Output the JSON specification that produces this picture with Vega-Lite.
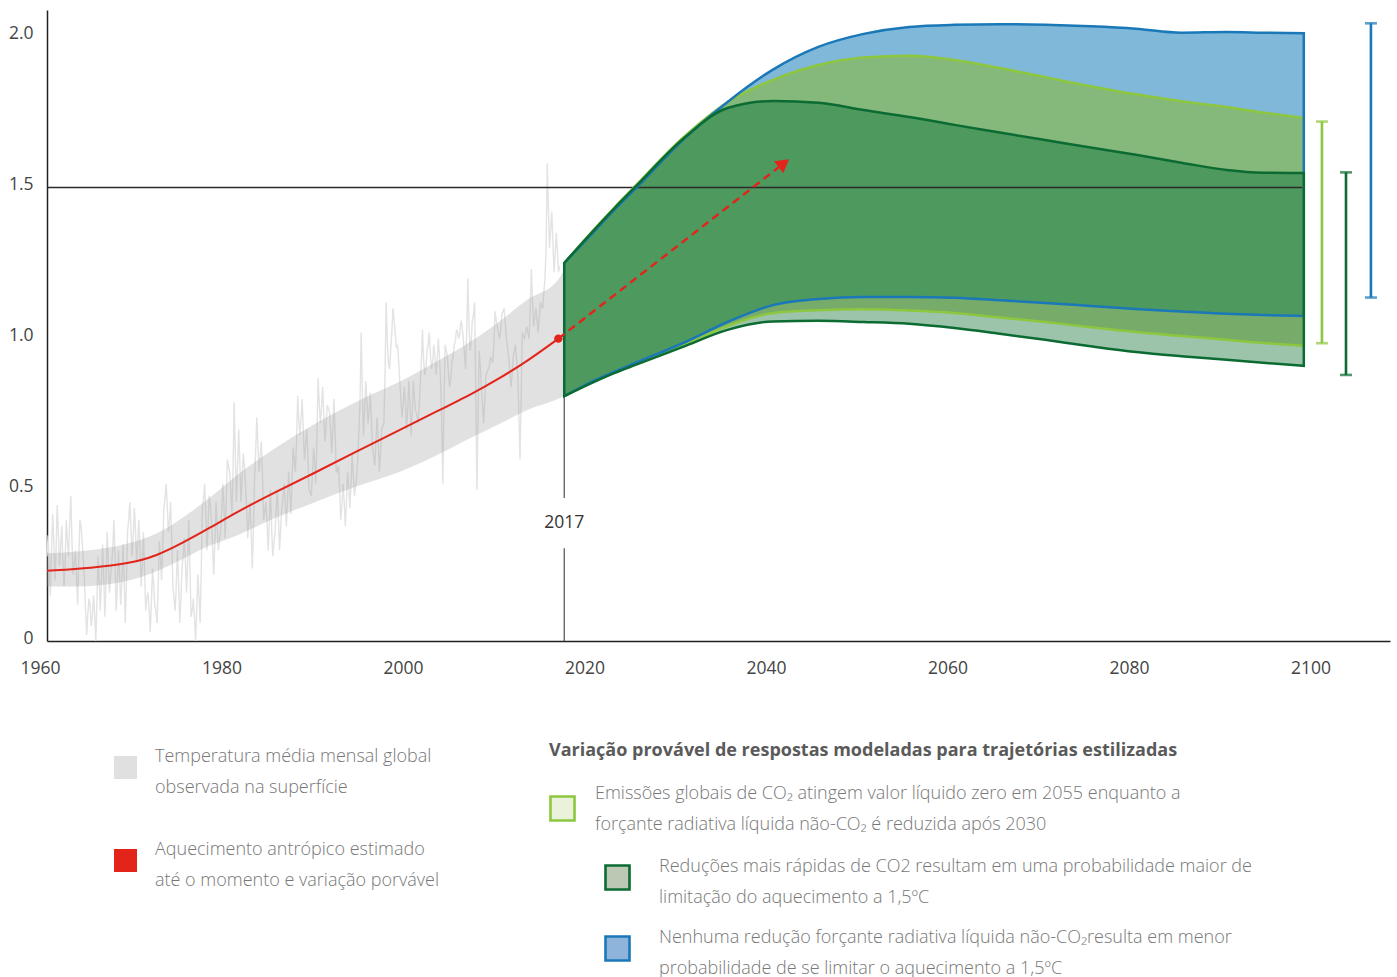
{
  "$schema": "https://vega.github.io/schema/vega-lite/v6.json",
  "width": 1343,
  "height": 631,
  "autosize": {"type": "none"},
  "padding": {"left": 47, "top": 10, "right": 7, "bottom": 336},
  "background": "white",
  "config": {
    "view": {"stroke": null},
    "font": "Open Sans",
    "axis": {"grid": false, "ticks": false, "labelFont": "Open Sans", "labelFontSize": 17.5, "labelColor": "#444444", "domainColor": "#222222", "domainWidth": 1.5}
  },
  "datasets": {
    "observado": [
      {"ano":1960.125,"t":0.35},{"ano":1960.375,"t":0.15},{"ano":1960.625,"t":0.42},{"ano":1960.875,"t":0.20},
      {"ano":1961.125,"t":0.45},{"ano":1961.375,"t":0.25},{"ano":1961.625,"t":0.38},{"ano":1961.875,"t":0.18},
      {"ano":1962.125,"t":0.40},{"ano":1962.375,"t":0.28},{"ano":1962.625,"t":0.48},{"ano":1962.875,"t":0.22},
      {"ano":1963.125,"t":0.30},{"ano":1963.375,"t":0.12},{"ano":1963.625,"t":0.40},{"ano":1963.875,"t":0.33},
      {"ano":1964.125,"t":0.20},{"ano":1964.375,"t":0.02},{"ano":1964.625,"t":0.14},{"ano":1964.875,"t":0.05},
      {"ano":1965.125,"t":0.15},{"ano":1965.375,"t":0.00},{"ano":1965.625,"t":0.28},{"ano":1965.875,"t":0.10},
      {"ano":1966.125,"t":0.32},{"ano":1966.375,"t":0.08},{"ano":1966.625,"t":0.36},{"ano":1966.875,"t":0.16},
      {"ano":1967.125,"t":0.25},{"ano":1967.375,"t":0.40},{"ano":1967.625,"t":0.10},{"ano":1967.875,"t":0.30},
      {"ano":1968.125,"t":0.12},{"ano":1968.375,"t":0.32},{"ano":1968.625,"t":0.06},{"ano":1968.875,"t":0.36},
      {"ano":1969.125,"t":0.46},{"ano":1969.375,"t":0.28},{"ano":1969.625,"t":0.44},{"ano":1969.875,"t":0.26},
      {"ano":1970.125,"t":0.40},{"ano":1970.375,"t":0.18},{"ano":1970.625,"t":0.36},{"ano":1970.875,"t":0.10},
      {"ano":1971.125,"t":0.16},{"ano":1971.375,"t":0.03},{"ano":1971.625,"t":0.24},{"ano":1971.875,"t":0.12},
      {"ano":1972.125,"t":0.06},{"ano":1972.375,"t":0.33},{"ano":1972.625,"t":0.20},{"ano":1972.875,"t":0.44},
      {"ano":1973.125,"t":0.52},{"ano":1973.375,"t":0.36},{"ano":1973.625,"t":0.46},{"ano":1973.875,"t":0.18},
      {"ano":1974.125,"t":0.10},{"ano":1974.375,"t":0.30},{"ano":1974.625,"t":0.06},{"ano":1974.875,"t":0.24},
      {"ano":1975.125,"t":0.34},{"ano":1975.375,"t":0.16},{"ano":1975.625,"t":0.40},{"ano":1975.875,"t":0.08},
      {"ano":1976.125,"t":0.14},{"ano":1976.375,"t":0.00},{"ano":1976.625,"t":0.22},{"ano":1976.875,"t":0.06},
      {"ano":1977.125,"t":0.44},{"ano":1977.375,"t":0.52},{"ano":1977.625,"t":0.30},{"ano":1977.875,"t":0.48},
      {"ano":1978.125,"t":0.40},{"ano":1978.375,"t":0.22},{"ano":1978.625,"t":0.46},{"ano":1978.875,"t":0.30},
      {"ano":1979.125,"t":0.36},{"ano":1979.375,"t":0.52},{"ano":1979.625,"t":0.34},{"ano":1979.875,"t":0.60},
      {"ano":1980.125,"t":0.56},{"ano":1980.375,"t":0.42},{"ano":1980.625,"t":0.79},{"ano":1980.875,"t":0.46},
      {"ano":1981.125,"t":0.70},{"ano":1981.375,"t":0.46},{"ano":1981.625,"t":0.62},{"ano":1981.875,"t":0.52},
      {"ano":1982.125,"t":0.34},{"ano":1982.375,"t":0.46},{"ano":1982.625,"t":0.24},{"ano":1982.875,"t":0.54},
      {"ano":1983.125,"t":0.74},{"ano":1983.375,"t":0.56},{"ano":1983.625,"t":0.66},{"ano":1983.875,"t":0.40},
      {"ano":1984.125,"t":0.46},{"ano":1984.375,"t":0.30},{"ano":1984.625,"t":0.50},{"ano":1984.875,"t":0.28},
      {"ano":1985.125,"t":0.36},{"ano":1985.375,"t":0.50},{"ano":1985.625,"t":0.30},{"ano":1985.875,"t":0.44},
      {"ano":1986.125,"t":0.52},{"ano":1986.375,"t":0.38},{"ano":1986.625,"t":0.56},{"ano":1986.875,"t":0.42},
      {"ano":1987.125,"t":0.64},{"ano":1987.375,"t":0.56},{"ano":1987.625,"t":0.81},{"ano":1987.875,"t":0.68},
      {"ano":1988.125,"t":0.80},{"ano":1988.375,"t":0.60},{"ano":1988.625,"t":0.70},{"ano":1988.875,"t":0.50},
      {"ano":1989.125,"t":0.48},{"ano":1989.375,"t":0.64},{"ano":1989.625,"t":0.52},{"ano":1989.875,"t":0.87},
      {"ano":1990.125,"t":0.72},{"ano":1990.375,"t":0.84},{"ano":1990.625,"t":0.66},{"ano":1990.875,"t":0.78},
      {"ano":1991.125,"t":0.76},{"ano":1991.375,"t":0.62},{"ano":1991.625,"t":0.80},{"ano":1991.875,"t":0.56},
      {"ano":1992.125,"t":0.58},{"ano":1992.375,"t":0.40},{"ano":1992.625,"t":0.52},{"ano":1992.875,"t":0.38},
      {"ano":1993.125,"t":0.56},{"ano":1993.375,"t":0.44},{"ano":1993.625,"t":0.62},{"ano":1993.875,"t":0.48},
      {"ano":1994.125,"t":0.54},{"ano":1994.375,"t":0.70},{"ano":1994.625,"t":1.02},{"ano":1994.875,"t":0.68},
      {"ano":1995.125,"t":0.86},{"ano":1995.375,"t":0.72},{"ano":1995.625,"t":0.82},{"ano":1995.875,"t":0.64},
      {"ano":1996.125,"t":0.58},{"ano":1996.375,"t":0.74},{"ano":1996.625,"t":0.56},{"ano":1996.875,"t":0.70},
      {"ano":1997.125,"t":0.72},{"ano":1997.375,"t":1.12},{"ano":1997.625,"t":0.92},{"ano":1997.875,"t":0.96},
      {"ano":1998.125,"t":1.10},{"ano":1998.375,"t":1.02},{"ano":1998.625,"t":0.98},{"ano":1998.875,"t":0.86},
      {"ano":1999.125,"t":0.74},{"ano":1999.375,"t":0.84},{"ano":1999.625,"t":0.70},{"ano":1999.875,"t":0.86},
      {"ano":2000.125,"t":0.68},{"ano":2000.375,"t":0.86},{"ano":2000.625,"t":0.76},{"ano":2000.875,"t":0.72},
      {"ano":2001.125,"t":0.84},{"ano":2001.375,"t":1.03},{"ano":2001.625,"t":0.88},{"ano":2001.875,"t":0.96},
      {"ano":2002.125,"t":1.02},{"ano":2002.375,"t":0.90},{"ano":2002.625,"t":0.98},{"ano":2002.875,"t":0.88},
      {"ano":2003.125,"t":1.00},{"ano":2003.375,"t":0.86},{"ano":2003.625,"t":0.52},{"ano":2003.875,"t":0.98},
      {"ano":2004.125,"t":0.94},{"ano":2004.375,"t":0.84},{"ano":2004.625,"t":0.92},{"ano":2004.875,"t":0.98},
      {"ano":2005.125,"t":1.03},{"ano":2005.375,"t":1.00},{"ano":2005.625,"t":1.06},{"ano":2005.875,"t":1.00},
      {"ano":2006.125,"t":0.90},{"ano":2006.375,"t":1.20},{"ano":2006.625,"t":0.96},{"ano":2006.875,"t":1.06},
      {"ano":2007.125,"t":1.12},{"ano":2007.375,"t":0.50},{"ano":2007.625,"t":0.96},{"ano":2007.875,"t":0.84},
      {"ano":2008.125,"t":0.72},{"ano":2008.375,"t":0.88},{"ano":2008.625,"t":0.90},{"ano":2008.875,"t":0.94},
      {"ano":2009.125,"t":0.92},{"ano":2009.375,"t":1.09},{"ano":2009.625,"t":1.04},{"ano":2009.875,"t":1.00},
      {"ano":2010.125,"t":1.08},{"ano":2010.375,"t":1.10},{"ano":2010.625,"t":1.00},{"ano":2010.875,"t":0.94},
      {"ano":2011.125,"t":0.84},{"ano":2011.375,"t":0.94},{"ano":2011.625,"t":0.98},{"ano":2011.875,"t":0.88},
      {"ano":2012.125,"t":0.60},{"ano":2012.375,"t":1.02},{"ano":2012.625,"t":1.00},{"ano":2012.875,"t":1.04},
      {"ano":2013.125,"t":1.00},{"ano":2013.375,"t":1.23},{"ano":2013.625,"t":1.04},{"ano":2013.875,"t":1.10},
      {"ano":2014.125,"t":1.02},{"ano":2014.375,"t":1.12},{"ano":2014.625,"t":1.10},{"ano":2014.875,"t":1.20},
      {"ano":2015.125,"t":1.58},{"ano":2015.375,"t":1.30},{"ano":2015.625,"t":1.42},{"ano":2015.875,"t":1.22},
      {"ano":2016.125,"t":1.35},{"ano":2016.375,"t":1.22},
      {"ano":1960.0,"t":0.28},{"ano":1960.25,"t":0.24},{"ano":1960.5,"t":0.30},{"ano":1960.75,"t":0.33},
      {"ano":1961.0,"t":0.30},{"ano":1961.25,"t":0.36},{"ano":1961.5,"t":0.31},{"ano":1961.75,"t":0.27},
      {"ano":1962.0,"t":0.26},{"ano":1962.25,"t":0.33},{"ano":1962.5,"t":0.39},{"ano":1962.75,"t":0.33},
      {"ano":1963.0,"t":0.25},{"ano":1963.25,"t":0.22},{"ano":1963.5,"t":0.27},{"ano":1963.75,"t":0.38},
      {"ano":1964.0,"t":0.27},{"ano":1964.25,"t":0.10},{"ano":1964.5,"t":0.09},{"ano":1964.75,"t":0.12},
      {"ano":1965.0,"t":0.08},{"ano":1965.25,"t":0.09},{"ano":1965.5,"t":0.13},{"ano":1965.75,"t":0.20},
      {"ano":1966.0,"t":0.20},{"ano":1966.25,"t":0.22},{"ano":1966.5,"t":0.20},{"ano":1966.75,"t":0.27},
      {"ano":1967.0,"t":0.21},{"ano":1967.25,"t":0.31},{"ano":1967.5,"t":0.27},{"ano":1967.75,"t":0.18},
      {"ano":1968.0,"t":0.22},{"ano":1968.25,"t":0.20},{"ano":1968.5,"t":0.21},{"ano":1968.75,"t":0.19},
      {"ano":1969.0,"t":0.40},{"ano":1969.25,"t":0.38},{"ano":1969.5,"t":0.34},{"ano":1969.75,"t":0.37},
      {"ano":1970.0,"t":0.32},{"ano":1970.25,"t":0.30},{"ano":1970.5,"t":0.25},{"ano":1970.75,"t":0.24},
      {"ano":1971.0,"t":0.14},{"ano":1971.25,"t":0.11},{"ano":1971.5,"t":0.12},{"ano":1971.75,"t":0.19},
      {"ano":1972.0,"t":0.10},{"ano":1972.25,"t":0.18},{"ano":1972.5,"t":0.28},{"ano":1972.75,"t":0.30},
      {"ano":1973.0,"t":0.47},{"ano":1973.25,"t":0.45},{"ano":1973.5,"t":0.40},{"ano":1973.75,"t":0.33},
      {"ano":1974.0,"t":0.14},{"ano":1974.25,"t":0.19},{"ano":1974.5,"t":0.20},{"ano":1974.75,"t":0.13},
      {"ano":1975.0,"t":0.28},{"ano":1975.25,"t":0.27},{"ano":1975.5,"t":0.26},{"ano":1975.75,"t":0.25},
      {"ano":1976.0,"t":0.10},{"ano":1976.25,"t":0.08},{"ano":1976.5,"t":0.10},{"ano":1976.75,"t":0.15},
      {"ano":1977.0,"t":0.24},{"ano":1977.25,"t":0.47},{"ano":1977.5,"t":0.42},{"ano":1977.75,"t":0.38},
      {"ano":1978.0,"t":0.45},{"ano":1978.25,"t":0.31},{"ano":1978.5,"t":0.33},{"ano":1978.75,"t":0.39},
      {"ano":1979.0,"t":0.33},{"ano":1979.25,"t":0.43},{"ano":1979.5,"t":0.45},{"ano":1979.75,"t":0.46},
      {"ano":1980.0,"t":0.58},{"ano":1980.25,"t":0.50},{"ano":1980.5,"t":0.55},{"ano":1980.75,"t":0.62},
      {"ano":1981.0,"t":0.58},{"ano":1981.25,"t":0.59},{"ano":1981.5,"t":0.53},{"ano":1981.75,"t":0.58},
      {"ano":1982.0,"t":0.44},{"ano":1982.25,"t":0.40},{"ano":1982.5,"t":0.36},{"ano":1982.75,"t":0.38},
      {"ano":1983.0,"t":0.63},{"ano":1983.25,"t":0.64},{"ano":1983.5,"t":0.62},{"ano":1983.75,"t":0.55},
      {"ano":1984.0,"t":0.43},{"ano":1984.25,"t":0.39},{"ano":1984.5,"t":0.40},{"ano":1984.75,"t":0.38},
      {"ano":1985.0,"t":0.32},{"ano":1985.25,"t":0.43},{"ano":1985.5,"t":0.41},{"ano":1985.75,"t":0.37},
      {"ano":1986.0,"t":0.47},{"ano":1986.25,"t":0.46},{"ano":1986.5,"t":0.46},{"ano":1986.75,"t":0.50},
      {"ano":1987.0,"t":0.53},{"ano":1987.25,"t":0.60},{"ano":1987.5,"t":0.66},{"ano":1987.75,"t":0.73},
      {"ano":1988.0,"t":0.74},{"ano":1988.25,"t":0.69},{"ano":1988.5,"t":0.65},{"ano":1988.75,"t":0.61},
      {"ano":1989.0,"t":0.49},{"ano":1989.25,"t":0.55},{"ano":1989.5,"t":0.59},{"ano":1989.75,"t":0.68},
      {"ano":1990.0,"t":0.79},{"ano":1990.25,"t":0.77},{"ano":1990.5,"t":0.75},{"ano":1990.75,"t":0.71},
      {"ano":1991.0,"t":0.77},{"ano":1991.25,"t":0.70},{"ano":1991.5,"t":0.70},{"ano":1991.75,"t":0.69},
      {"ano":1992.0,"t":0.56},{"ano":1992.25,"t":0.50},{"ano":1992.5,"t":0.45},{"ano":1992.75,"t":0.46},
      {"ano":1993.0,"t":0.46},{"ano":1993.25,"t":0.51},{"ano":1993.5,"t":0.52},{"ano":1993.75,"t":0.55},
      {"ano":1994.0,"t":0.51},{"ano":1994.25,"t":0.61},{"ano":1994.5,"t":0.80},{"ano":1994.75,"t":0.83},
      {"ano":1995.0,"t":0.76},{"ano":1995.25,"t":0.80},{"ano":1995.5,"t":0.76},{"ano":1995.75,"t":0.73},
      {"ano":1996.0,"t":0.61},{"ano":1996.25,"t":0.66},{"ano":1996.5,"t":0.66},{"ano":1996.75,"t":0.62},
      {"ano":1997.0,"t":0.71},{"ano":1997.25,"t":0.88},{"ano":1997.5,"t":0.99},{"ano":1997.75,"t":0.90},
      {"ano":1998.0,"t":1.02},{"ano":1998.25,"t":1.06},{"ano":1998.5,"t":0.97},{"ano":1998.75,"t":0.93},
      {"ano":1999.0,"t":0.80},{"ano":1999.25,"t":0.78},{"ano":1999.5,"t":0.79},{"ano":1999.75,"t":0.76},
      {"ano":2000.0,"t":0.79},{"ano":2000.25,"t":0.75},{"ano":2000.5,"t":0.80},{"ano":2000.75,"t":0.75},
      {"ano":2001.0,"t":0.77},{"ano":2001.25,"t":0.92},{"ano":2001.5,"t":0.93},{"ano":2001.75,"t":0.90},
      {"ano":2002.0,"t":0.98},{"ano":2002.25,"t":0.95},{"ano":2002.5,"t":0.92},{"ano":2002.75,"t":0.94},
      {"ano":2003.0,"t":0.93},{"ano":2003.25,"t":0.94},{"ano":2003.5,"t":0.72},{"ano":2003.75,"t":0.79},
      {"ano":2004.0,"t":0.96},{"ano":2004.25,"t":0.88},{"ano":2004.5,"t":0.87},{"ano":2004.75,"t":0.94},
      {"ano":2005.0,"t":0.99},{"ano":2005.25,"t":1.02},{"ano":2005.5,"t":1.02},{"ano":2005.75,"t":1.04},
      {"ano":2006.0,"t":0.95},{"ano":2006.25,"t":1.02},{"ano":2006.5,"t":1.05},{"ano":2006.75,"t":0.99},
      {"ano":2007.0,"t":1.08},{"ano":2007.25,"t":0.82},{"ano":2007.5,"t":0.74},{"ano":2007.75,"t":0.91},
      {"ano":2008.0,"t":0.78},{"ano":2008.25,"t":0.80},{"ano":2008.5,"t":0.89},{"ano":2008.75,"t":0.91},
      {"ano":2009.0,"t":0.93},{"ano":2009.25,"t":0.98},{"ano":2009.5,"t":1.06},{"ano":2009.75,"t":1.02},
      {"ano":2010.0,"t":1.03},{"ano":2010.25,"t":1.09},{"ano":2010.5,"t":1.05},{"ano":2010.75,"t":0.97},
      {"ano":2011.0,"t":0.89},{"ano":2011.25,"t":0.88},{"ano":2011.5,"t":0.96},{"ano":2011.75,"t":0.93},
      {"ano":2012.0,"t":0.76},{"ano":2012.25,"t":0.80},{"ano":2012.5,"t":1.01},{"ano":2012.75,"t":1.02},
      {"ano":2013.0,"t":1.02},{"ano":2013.25,"t":1.10},{"ano":2013.5,"t":1.13},{"ano":2013.75,"t":1.07},
      {"ano":2014.0,"t":1.06},{"ano":2014.25,"t":1.07},{"ano":2014.5,"t":1.11},{"ano":2014.75,"t":1.15},
      {"ano":2015.0,"t":1.30},{"ano":2015.25,"t":1.44},{"ano":2015.5,"t":1.36},{"ano":2015.75,"t":1.32},
      {"ano":2016.0,"t":1.28},{"ano":2016.25,"t":1.29},{"ano":2016.5,"t":1.24}
    ],
    "faixa": [
      {"ano":1960,"inf":0.18,"sup":0.29},{"ano":1963,"inf":0.18,"sup":0.295},{"ano":1966,"inf":0.185,"sup":0.305},
      {"ano":1969,"inf":0.2,"sup":0.323},{"ano":1972,"inf":0.23,"sup":0.355},{"ano":1974,"inf":0.257,"sup":0.389},
      {"ano":1977.6,"inf":0.312,"sup":0.466},{"ano":1981,"inf":0.35,"sup":0.55},{"ano":1985,"inf":0.405,"sup":0.635},
      {"ano":1989.5,"inf":0.459,"sup":0.718},{"ano":1994,"inf":0.51,"sup":0.79},{"ano":1998.9,"inf":0.56,"sup":0.858},
      {"ano":2003,"inf":0.615,"sup":0.925},{"ano":2007,"inf":0.676,"sup":0.996},{"ano":2010,"inf":0.72,"sup":1.06},
      {"ano":2013,"inf":0.765,"sup":1.13},{"ano":2016.3,"inf":0.8,"sup":1.194},{"ano":2017,"inf":0.81,"sup":1.227}
    ],
    "antropico": [
      {"ano":1960,"valor":0.232},{"ano":1965,"valor":0.242},{"ano":1969,"valor":0.256},{"ano":1972,"valor":0.28},
      {"ano":1975,"valor":0.325},{"ano":1978,"valor":0.375},{"ano":1981,"valor":0.428},{"ano":1985,"valor":0.49},
      {"ano":1989.5,"valor":0.556},{"ano":1994,"valor":0.625},{"ano":1999,"valor":0.7},{"ano":2003,"valor":0.76},
      {"ano":2007,"valor":0.82},{"ano":2010,"valor":0.871},{"ano":2013,"valor":0.927},{"ano":2016.35,"valor":1.0}
    ],
    "marco": [{"ano":2016.35,"valor":1.0}],
    "corte2017": [{"ano":2017,"de":0,"ate":0.307},{"ano":2017,"de":0.473,"ate":0.81}],
    "rotulo2017": [{"ano":2017,"valor":0.39}],
    "projecao": [
      {"ano":2017,"azul_sup":1.25,"verde_sup":1.25,"escuro_sup":1.25,"azul_inf":0.81,"verde_inf":0.81,"escuro_inf":0.81},
      {"ano":2020,"azul_sup":1.345,"verde_sup":1.352,"escuro_sup":1.35,"azul_inf":0.857,"verde_inf":0.855,"escuro_inf":0.853},
      {"ano":2022.5,"azul_sup":1.425,"verde_sup":1.433,"escuro_sup":1.43,"azul_inf":0.89,"verde_inf":0.888,"escuro_inf":0.886},
      {"ano":2025,"azul_sup":1.5,"verde_sup":1.51,"escuro_sup":1.507,"azul_inf":0.922,"verde_inf":0.918,"escuro_inf":0.915},
      {"ano":2030,"azul_sup":1.655,"verde_sup":1.662,"escuro_sup":1.658,"azul_inf":0.984,"verde_inf":0.978,"escuro_inf":0.972},
      {"ano":2035,"azul_sup":1.783,"verde_sup":1.782,"escuro_sup":1.763,"azul_inf":1.055,"verde_inf":1.042,"escuro_inf":1.029},
      {"ano":2040,"azul_sup":1.89,"verde_sup":1.856,"escuro_sup":1.786,"azul_inf":1.111,"verde_inf":1.085,"escuro_inf":1.057},
      {"ano":2045,"azul_sup":1.965,"verde_sup":1.905,"escuro_sup":1.78,"azul_inf":1.131,"verde_inf":1.094,"escuro_inf":1.059},
      {"ano":2050,"azul_sup":2.008,"verde_sup":1.93,"escuro_sup":1.756,"azul_inf":1.138,"verde_inf":1.097,"escuro_inf":1.055},
      {"ano":2055,"azul_sup":2.031,"verde_sup":1.936,"escuro_sup":1.733,"azul_inf":1.138,"verde_inf":1.093,"escuro_inf":1.049},
      {"ano":2060,"azul_sup":2.038,"verde_sup":1.922,"escuro_sup":1.707,"azul_inf":1.135,"verde_inf":1.085,"escuro_inf":1.035},
      {"ano":2065,"azul_sup":2.04,"verde_sup":1.895,"escuro_sup":1.682,"azul_inf":1.127,"verde_inf":1.07,"escuro_inf":1.016},
      {"ano":2070,"azul_sup":2.038,"verde_sup":1.865,"escuro_sup":1.657,"azul_inf":1.118,"verde_inf":1.055,"escuro_inf":0.996},
      {"ano":2075,"azul_sup":2.033,"verde_sup":1.835,"escuro_sup":1.632,"azul_inf":1.108,"verde_inf":1.038,"escuro_inf":0.975},
      {"ano":2080,"azul_sup":2.025,"verde_sup":1.808,"escuro_sup":1.608,"azul_inf":1.098,"verde_inf":1.022,"escuro_inf":0.956},
      {"ano":2085,"azul_sup":2.012,"verde_sup":1.785,"escuro_sup":1.582,"azul_inf":1.09,"verde_inf":1.009,"escuro_inf":0.942},
      {"ano":2090,"azul_sup":2.014,"verde_sup":1.766,"escuro_sup":1.558,"azul_inf":1.082,"verde_inf":0.996,"escuro_inf":0.93},
      {"ano":2094,"azul_sup":2.012,"verde_sup":1.748,"escuro_sup":1.549,"azul_inf":1.078,"verde_inf":0.986,"escuro_inf":0.92},
      {"ano":2098.5,"azul_sup":2.01,"verde_sup":1.73,"escuro_sup":1.548,"azul_inf":1.075,"verde_inf":0.976,"escuro_inf":0.91}
    ],
    "limite": [{"de":1960,"ate":2098.5,"nivel":1.5}],
    "tendencia": [{"ano":2016.35,"valor":1.0},{"ano":2041.2,"valor":1.58}],
    "ponta": [{"ano":2041.2,"valor":1.58}],
    "intervalos": [
      {"id":"verde","cenario":"Emissões globais de CO₂ atingem valor líquido zero em 2055 enquanto a\nforçante radiativa líquida não-CO₂ é reduzida após 2030","ano":2100.5,"min":0.985,"max":1.718},
      {"id":"escuro","cenario":"Reduções mais rápidas de CO2 resultam em uma probabilidade maior de\nlimitação do aquecimento a 1,5ºC","ano":2103.15,"min":0.88,"max":1.55},
      {"id":"azul","cenario":"Nenhuma redução forçante radiativa líquida não-CO₂resulta em menor\nprobabilidade de se limitar o aquecimento a  1,5ºC","ano":2105.9,"min":1.136,"max":2.043}
    ]
  },
  "layer": [
    {
      "layer": [
        {
          "data": {"name": "observado"},
          "mark": {"type": "line", "strokeWidth": 1.4},
          "encoding": {
            "x": {"field": "ano", "type": "quantitative", "title": null,
              "scale": {"domain": [1960, 2108], "nice": false, "zero": false},
              "axis": {"values": [1960, 1980, 2000, 2020, 2040, 2060, 2080, 2100], "format": "d", "labelFlush": false, "labelOverlap": false, "labelPadding": 18, "labelOffset": -7}},
            "y": {"field": "t", "type": "quantitative", "title": null,
              "scale": {"domain": [0, 2.087], "nice": false},
              "axis": {"values": [0, 0.5, 1, 1.5, 2], "labelExpr": "datum.value == 0 ? '0' : format(datum.value, '.1f')", "labelPadding": 14, "labelOffset": -3, "labelFlush": false, "labelOverlap": false}},
            "stroke": {
              "datum": "Temperatura média mensal global\nobservada na superfície",
              "type": "nominal",
              "scale": {"domain": ["Temperatura média mensal global\nobservada na superfície", "Aquecimento antrópico estimado\naté o momento e variação porvável"], "range": ["#e3e3e3", "#e3241b"]},
              "legend": {
                "orient": "none", "legendX": 67, "legendY": 746, "title": null, "padding": 0,
                "symbolType": "square", "symbolSize": 529, "labelOffset": 18, "rowPadding": 43,
                "labelFont": "Open Sans", "labelFontSize": 18, "labelFontWeight": 300, "labelColor": "#777777", "labelLimit": 800,
                "labelExpr": "split(datum.label, '\\n')",
                "encode": {
                  "symbols": {"update": {"fill": {"signal": "datum.index === 0 ? '#e0e0e0' : '#e3241b'"}, "strokeWidth": {"value": 0}, "opacity": {"value": 1}}},
                  "labels": {"update": {"lineHeight": {"value": 31}, "dy": {"value": -11}}}
                }
              }
            }
          }
        },
        {
          "data": {"name": "faixa"},
          "mark": {"type": "area", "fill": "#9d9d9d", "opacity": 0.3, "interpolate": "monotone"},
          "encoding": {
            "x": {"field": "ano", "type": "quantitative", "title": null},
            "y": {"field": "inf", "type": "quantitative", "title": null},
            "y2": {"field": "sup"}
          }
        },
        {
          "data": {"name": "antropico"},
          "mark": {"type": "line", "strokeWidth": 2, "interpolate": "basis"},
          "encoding": {
            "x": {"field": "ano", "type": "quantitative", "title": null},
            "y": {"field": "valor", "type": "quantitative", "title": null},
            "stroke": {"datum": "Aquecimento antrópico estimado\naté o momento e variação porvável", "type": "nominal"}
          }
        },
        {
          "data": {"name": "marco"},
          "mark": {"type": "point", "filled": true, "size": 70, "color": "#e3241b", "opacity": 1},
          "encoding": {
            "x": {"field": "ano", "type": "quantitative", "title": null},
            "y": {"field": "valor", "type": "quantitative", "title": null}
          }
        }
      ]
    },
    {
      "data": {"name": "corte2017"},
      "mark": {"type": "rule", "stroke": "#4d4d4d", "strokeWidth": 1.2},
      "encoding": {
        "x": {"field": "ano", "type": "quantitative", "title": null},
        "y": {"field": "de", "type": "quantitative", "title": null},
        "y2": {"field": "ate"}
      }
    },
    {
      "data": {"name": "rotulo2017"},
      "mark": {"type": "text", "fontSize": 17.5, "color": "#333333", "font": "Open Sans"},
      "encoding": {
        "x": {"field": "ano", "type": "quantitative", "title": null},
        "y": {"field": "valor", "type": "quantitative", "title": null},
        "text": {"field": "ano", "type": "quantitative", "format": "d"}
      }
    },
    {
      "data": {"name": "projecao"},
      "mark": {"type": "area", "fill": "#80b8d9", "interpolate": "monotone"},
      "encoding": {"x": {"field": "ano", "type": "quantitative", "title": null}, "y": {"field": "escuro_inf", "type": "quantitative", "title": null}, "y2": {"field": "azul_sup"}}
    },
    {
      "data": {"name": "projecao"},
      "mark": {"type": "area", "fill": "#85b97b", "interpolate": "monotone"},
      "encoding": {"x": {"field": "ano", "type": "quantitative", "title": null}, "y": {"field": "escuro_inf", "type": "quantitative", "title": null}, "y2": {"field": "verde_sup"}}
    },
    {
      "data": {"name": "projecao"},
      "mark": {"type": "area", "fill": "#4e995d", "interpolate": "monotone"},
      "encoding": {"x": {"field": "ano", "type": "quantitative", "title": null}, "y": {"field": "escuro_inf", "type": "quantitative", "title": null}, "y2": {"field": "escuro_sup"}}
    },
    {
      "data": {"name": "projecao"},
      "mark": {"type": "area", "fill": "#77ab6a", "interpolate": "monotone"},
      "encoding": {"x": {"field": "ano", "type": "quantitative", "title": null}, "y": {"field": "escuro_inf", "type": "quantitative", "title": null}, "y2": {"field": "azul_inf"}}
    },
    {
      "data": {"name": "projecao"},
      "mark": {"type": "area", "fill": "#9cc4aa", "interpolate": "monotone"},
      "encoding": {"x": {"field": "ano", "type": "quantitative", "title": null}, "y": {"field": "escuro_inf", "type": "quantitative", "title": null}, "y2": {"field": "verde_inf"}}
    },
    {
      "data": {"name": "limite"},
      "mark": {"type": "rule", "stroke": "#2b2b2b", "strokeWidth": 1.3},
      "encoding": {
        "x": {"field": "de", "type": "quantitative", "title": null},
        "x2": {"field": "ate"},
        "y": {"field": "nivel", "type": "quantitative", "title": null}
      }
    },
    {
      "data": {"name": "projecao"},
      "mark": {"type": "area", "fillOpacity": 0, "stroke": "#8dc63f", "strokeWidth": 2.5, "interpolate": "monotone"},
      "encoding": {"x": {"field": "ano", "type": "quantitative", "title": null}, "y": {"field": "verde_inf", "type": "quantitative", "title": null}, "y2": {"field": "verde_sup"}}
    },
    {
      "data": {"name": "projecao"},
      "mark": {"type": "area", "fillOpacity": 0, "stroke": "#1a78b8", "strokeWidth": 2.5, "interpolate": "monotone"},
      "encoding": {"x": {"field": "ano", "type": "quantitative", "title": null}, "y": {"field": "azul_inf", "type": "quantitative", "title": null}, "y2": {"field": "azul_sup"}}
    },
    {
      "data": {"name": "projecao"},
      "mark": {"type": "area", "fillOpacity": 0, "stroke": "#0b6b32", "strokeWidth": 2.5, "interpolate": "monotone"},
      "encoding": {"x": {"field": "ano", "type": "quantitative", "title": null}, "y": {"field": "escuro_inf", "type": "quantitative", "title": null}, "y2": {"field": "escuro_sup"}}
    },
    {
      "data": {"name": "tendencia"},
      "mark": {"type": "line", "stroke": "#e3241b", "strokeWidth": 2.4, "strokeDash": [8, 5]},
      "encoding": {
        "x": {"field": "ano", "type": "quantitative", "title": null},
        "y": {"field": "valor", "type": "quantitative", "title": null}
      }
    },
    {
      "data": {"name": "ponta"},
      "mark": {"type": "point", "shape": "triangle-up", "angle": 52.3, "size": 230, "filled": true, "color": "#e3241b", "opacity": 1},
      "encoding": {
        "x": {"field": "ano", "type": "quantitative", "title": null},
        "y": {"field": "valor", "type": "quantitative", "title": null}
      }
    },
    {
      "data": {"name": "intervalos"},
      "transform": [{"filter": "datum.id === 'verde'"}],
      "mark": {"type": "rule", "strokeWidth": 2.6},
      "encoding": {
        "x": {"field": "ano", "type": "quantitative", "title": null},
        "y": {"field": "min", "type": "quantitative", "title": null},
        "y2": {"field": "max"},
        "stroke": {
          "field": "cenario", "type": "nominal",
          "scale": {"range": ["#8dc63f"]},
          "legend": {
            "orient": "none", "legendX": 502, "legendY": 732, "padding": 0,
            "title": "Variação provável de respostas modeladas para trajetórias estilizadas",
            "titleFont": "Open Sans", "titleFontSize": 18, "titleFontWeight": 700, "titleColor": "#5a5a5a", "titlePadding": 35, "titleLimit": 1000,
            "symbolType": "square", "symbolSize": 576, "symbolStrokeWidth": 2.6, "labelOffset": 19,
            "labelFont": "Open Sans", "labelFontSize": 18, "labelFontWeight": 300, "labelColor": "#777777", "labelLimit": 900,
            "labelExpr": "split(datum.label, '\\n')",
            "encode": {
              "symbols": {"update": {"fill": {"value": "#eaf2dc"}, "fillOpacity": {"value": 1}, "opacity": {"value": 1}}},
              "labels": {"update": {"lineHeight": {"value": 31}, "dy": {"value": -15}}}
            }
          }
        }
      }
    },
    {
      "data": {"name": "intervalos"},
      "transform": [{"filter": "datum.id !== 'verde'"}],
      "mark": {"type": "rule", "strokeWidth": 2.6},
      "encoding": {
        "x": {"field": "ano", "type": "quantitative", "title": null},
        "y": {"field": "min", "type": "quantitative", "title": null},
        "y2": {"field": "max"},
        "stroke": {
          "field": "cenario", "type": "nominal",
          "scale": {"domain": ["Reduções mais rápidas de CO2 resultam em uma probabilidade maior de\nlimitação do aquecimento a 1,5ºC", "Nenhuma redução forçante radiativa líquida não-CO₂resulta em menor\nprobabilidade de se limitar o aquecimento a  1,5ºC"], "range": ["#0b6b32", "#1a78b8"]},
          "legend": {
            "orient": "none", "legendX": 557, "legendY": 854, "padding": 0, "title": null,
            "symbolType": "square", "symbolSize": 576, "symbolStrokeWidth": 2.6, "labelOffset": 28, "rowPadding": 21,
            "labelFont": "Open Sans", "labelFontSize": 18, "labelFontWeight": 300, "labelColor": "#777777", "labelLimit": 900,
            "labelExpr": "split(datum.label, '\\n')",
            "encode": {
              "symbols": {"update": {"fill": {"signal": "datum.index === 0 ? '#bcc7b4' : '#8fb4dc'"}, "stroke": {"signal": "datum.index === 0 ? '#0e4a28' : '#1a78b8'"}, "fillOpacity": {"value": 1}, "opacity": {"value": 1}}},
              "labels": {"update": {"lineHeight": {"value": 31}, "dy": {"value": -11}}}
            }
          }
        }
      }
    },
    {
      "data": {"name": "intervalos"},
      "mark": {"type": "tick", "orient": "horizontal", "size": 12, "thickness": 2.6},
      "encoding": {
        "x": {"field": "ano", "type": "quantitative", "title": null},
        "y": {"field": "min", "type": "quantitative", "title": null},
        "fill": {"field": "id", "type": "nominal", "scale": {"domain": ["verde", "escuro", "azul"], "range": ["#8dc63f", "#0b6b32", "#1a78b8"]}, "legend": null}
      }
    },
    {
      "data": {"name": "intervalos"},
      "mark": {"type": "tick", "orient": "horizontal", "size": 12, "thickness": 2.6},
      "encoding": {
        "x": {"field": "ano", "type": "quantitative", "title": null},
        "y": {"field": "max", "type": "quantitative", "title": null},
        "fill": {"field": "id", "type": "nominal", "scale": {"domain": ["verde", "escuro", "azul"], "range": ["#8dc63f", "#0b6b32", "#1a78b8"]}, "legend": null}
      }
    }
  ],
  "resolve": {"scale": {"stroke": "independent", "fill": "independent"}, "legend": {"stroke": "independent", "fill": "independent"}}
}
